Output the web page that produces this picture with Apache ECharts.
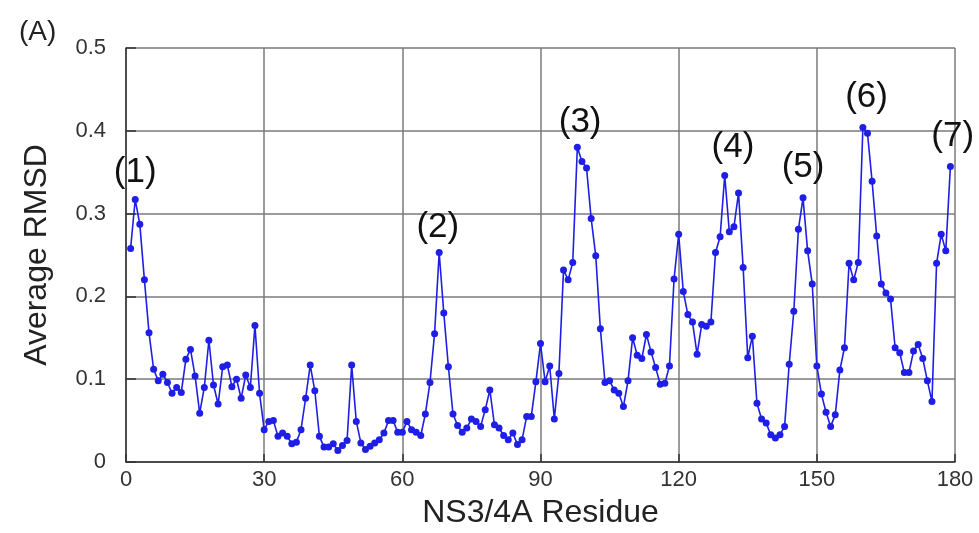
<!DOCTYPE html>
<html>
<head>
<meta charset="utf-8">
<script src="https://cdn.jsdelivr.net/npm/echarts@6/dist/echarts.min.js"></script>
<style>
html,body{margin:0;padding:0;background:#fff;}
#chart{width:979px;height:533px;}
</style>
</head>
<body>
<div id="chart"></div>
<script>
const firstResidue = 1;
const rmsdValues = [
0.258,0.317,0.287,0.220,0.156,0.112,0.098,0.106,0.096,0.083,
0.090,0.084,0.124,0.136,0.104,0.059,0.090,0.147,0.093,0.070,
0.115,0.117,0.091,0.100,0.077,0.105,0.090,0.165,0.083,0.039,
0.049,0.050,0.031,0.035,0.031,0.022,0.024,0.039,0.077,0.117,
0.086,0.031,0.018,0.018,0.022,0.014,0.020,0.026,0.117,0.049,
0.023,0.015,0.019,0.023,0.027,0.035,0.050,0.050,0.036,0.036,
0.049,0.039,0.036,0.032,0.058,0.096,0.155,0.253,0.180,0.115,
0.058,0.044,0.036,0.041,0.052,0.049,0.043,0.063,0.087,0.045,
0.041,0.032,0.027,0.035,0.021,0.027,0.055,0.055,0.097,0.143,
0.097,0.116,0.052,0.107,0.232,0.220,0.241,0.380,0.363,0.355,
0.294,0.249,0.161,0.096,0.098,0.087,0.083,0.067,0.098,0.150,
0.129,0.125,0.154,0.133,0.114,0.094,0.095,0.116,0.221,0.275,
0.206,0.178,0.169,0.130,0.166,0.164,0.169,0.253,0.272,0.346,
0.278,0.284,0.325,0.235,0.126,0.152,0.071,0.052,0.047,0.033,
0.029,0.033,0.043,0.118,0.182,0.281,0.319,0.255,0.215,0.116,
0.082,0.060,0.043,0.057,0.111,0.138,0.240,0.220,0.241,0.404,
0.397,0.339,0.273,0.215,0.204,0.197,0.138,0.132,0.108,0.108,
0.134,0.142,0.125,0.098,0.073,0.240,0.275,0.255,0.357
];
const peakLabels = ['(1)','(2)','(3)','(4)','(5)','(6)','(7)'];
const peakX = [2.0, 67.7, 98.6, 131.8, 147.0, 160.8, 179.5];
const peakY = [0.350, 0.283, 0.410, 0.380, 0.356, 0.440, 0.393];
const xTicks = {min: 0, max: 180, interval: 30};
const yTicks = {min: 0, max: 0.5, interval: 0.1};

const seriesData = rmsdValues.map((v, i) => [firstResidue + i, v]);
const markData = peakLabels.map((t, i) => ({name: t, coord: [peakX[i], peakY[i]]}));

const chart = echarts.init(document.getElementById('chart'), null, {renderer: 'canvas'});
const blue = '#1e1ee6';
chart.setOption({
  animation: false,
  backgroundColor: '#ffffff',
  grid: {left: 126, right: 24, top: 48, bottom: 71, containLabel: false, outerBoundsMode: 'none'},
  title: {
    text: '(A)', left: 14, top: 13,
    textStyle: {fontFamily: 'Liberation Sans, Arial, sans-serif', fontSize: 28, fontWeight: 'normal', color: '#222'}
  },
  xAxis: {
    type: 'value', min: xTicks.min, max: xTicks.max, interval: xTicks.interval,
    name: 'NS3/4A Residue', nameLocation: 'middle', nameGap: 35,
    nameTextStyle: {fontFamily: 'Liberation Sans, Arial, sans-serif', fontSize: 32, color: '#222'},
    axisLine: {show: true, onZero: false, lineStyle: {color: '#333', width: 1.5}},
    axisTick: {show: true, inside: true, length: 8, lineStyle: {color: '#333', width: 1.5}},
    axisLabel: {fontFamily: 'Liberation Sans, Arial, sans-serif', fontSize: 22, color: '#333', margin: 7},
    splitLine: {show: true, lineStyle: {color: '#7a7a7a', width: 1.5}}
  },
  yAxis: {
    type: 'value', min: yTicks.min, max: yTicks.max, interval: yTicks.interval,
    name: 'Average RMSD', nameLocation: 'middle', nameGap: 73, nameRotate: 90,
    nameTextStyle: {fontFamily: 'Liberation Sans, Arial, sans-serif', fontSize: 32, color: '#222'},
    axisLine: {show: true, onZero: false, lineStyle: {color: '#333', width: 1.5}},
    axisTick: {show: true, inside: true, length: 10, lineStyle: {color: '#333', width: 1.5}},
    axisLabel: {fontFamily: 'Liberation Sans, Arial, sans-serif', fontSize: 22, color: '#333', margin: 20,
      formatter: v => (v === 0 ? '0' : v.toFixed(1))},
    splitLine: {show: true, lineStyle: {color: '#7a7a7a', width: 1.5}}
  },
  series: [{
    type: 'line',
    data: seriesData,
    symbol: 'circle',
    symbolSize: 7,
    showAllSymbol: true,
    lineStyle: {color: blue, width: 1.6},
    itemStyle: {color: blue},
    clip: false,
    markPoint: {
      symbol: 'circle',
      symbolSize: 0,
      silent: true,
      label: {show: true, position: 'inside', formatter: '{b}',
        fontFamily: 'Liberation Sans, Arial, sans-serif', fontSize: 35, color: '#111'},
      data: markData
    }
  }]
});
</script>
</body>
</html>
